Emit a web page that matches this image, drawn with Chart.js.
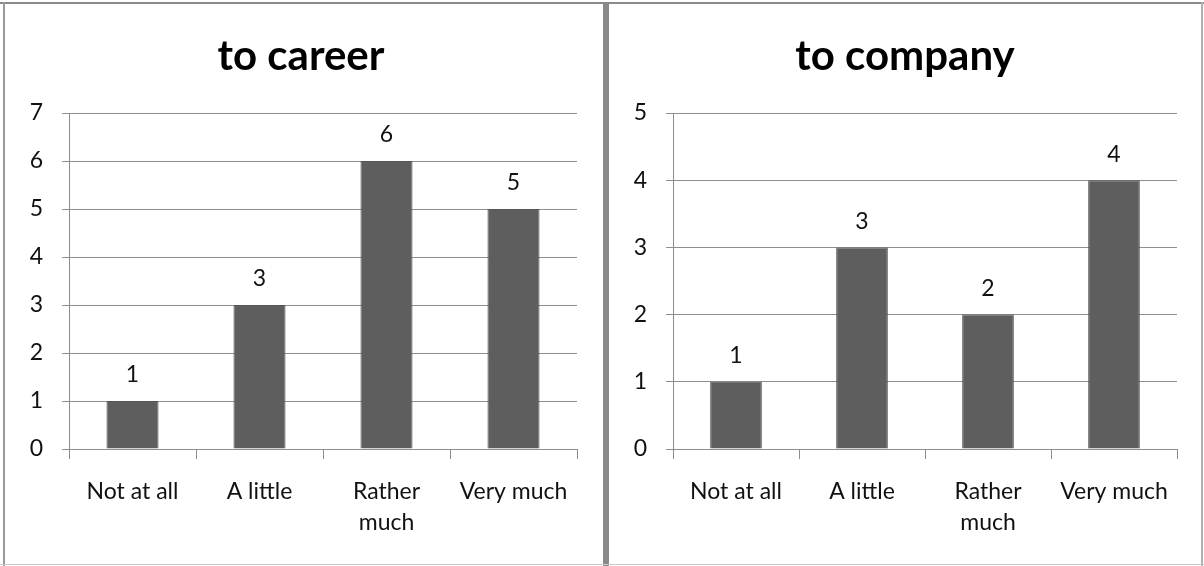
<!DOCTYPE html>
<html>
<head>
<meta charset="utf-8">
<script src="https://cdn.jsdelivr.net/npm/chart.js@4"></script>
<style>
  html, body { margin: 0; padding: 0; background: #fff; }
  body { width: 1204px; height: 566px; position: relative; overflow: hidden; }
  .panel { position: absolute; top: 4px; height: 560px; }
  #left-panel { left: 5px; width: 598px; }
  #right-panel { left: 609px; width: 593px; }
  .line { position: absolute; }
  #top-line { left: 0; top: 2px; width: 1204px; height: 2px; background: #8a8a8a; }
  #left-line { left: 3px; top: 2px; width: 2px; height: 564px; background: #9a9a9a; }
  #mid-line { left: 603px; top: 2px; width: 6px; height: 564px; background: #8a8a8a; }
  #right-line { left: 1201px; top: 2px; width: 2px; height: 564px; background: #b0b0b0; }
  #bottom-line { left: 0; top: 564px; width: 1204px; height: 1px; background: #c8c8c8; }
</style>
</head>
<body>
<div class="line" id="top-line"></div>
<div class="line" id="left-line"></div>
<div class="line" id="mid-line"></div>
<div class="line" id="right-line"></div>
<div class="line" id="bottom-line"></div>
<div class="panel" id="left-panel"><canvas id="career-chart" width="598" height="560"></canvas></div>
<div class="panel" id="right-panel"><canvas id="company-chart" width="593" height="560"></canvas></div>

<script>
// Answers shared by both charts
const answerLabels = [["Not at all"], ["A little"], ["Rather", "much"], ["Very much"]];

// Counts per answer
const careerCounts = [1, 3, 6, 5];
const companyCounts = [1, 3, 2, 4];

// Y axis ranges
const careerMax = 7;
const companyMax = 5;

const FONT = "Lato, 'Open Sans', sans-serif";
const GRID = "#8e8e8e";
const BAR = "#5e5e5e";
const TEXT = "#111111";

// writes each bar's value just above it
const valueLabels = {
  id: "valueLabels",
  afterDatasetsDraw(chart) {
    const ctx = chart.ctx;
    const meta = chart.getDatasetMeta(0);
    const values = chart.data.datasets[0].data;
    ctx.save();
    ctx.font = "23px " + FONT;
    ctx.fillStyle = TEXT;
    ctx.textAlign = "center";
    ctx.textBaseline = "middle";
    meta.data.forEach((bar, i) => {
      ctx.fillText(String(values[i]), bar.x, bar.y - 26);
    });
    ctx.restore();
  },
};

// plot area starts 64px in; leftPad shifts the centred title
function makeChart(canvasId, title, counts, yMax, leftPad, rightPad) {
  const ctx = document.getElementById(canvasId).getContext("2d");
  return new Chart(ctx, {
    type: "bar",
    data: {
      labels: answerLabels,
      datasets: [
        {
          data: counts,
          backgroundColor: BAR,
          borderColor: "#555555",
          borderWidth: 1,
          categoryPercentage: 1,
          barPercentage: 0.41,
        },
      ],
    },
    options: {
      responsive: false,
      animation: false,
      layout: { padding: { left: leftPad, right: rightPad, top: 0, bottom: 0 } },
      plugins: {
        legend: { display: false },
        tooltip: { enabled: false },
        title: {
          display: true,
          text: title,
          color: "#000",
          font: { family: FONT, size: 42, weight: "bold", lineHeight: 1 },
          padding: { top: 31, bottom: 36 },
        },
      },
      scales: {
        x: {
          grid: {
            display: true,
            drawOnChartArea: false,
            offset: true,
            tickLength: 10,
            color: GRID,
          },
          border: { color: GRID },
          ticks: {
            color: TEXT,
            font: { family: FONT, size: 23, lineHeight: 1.35 },
            padding: 17,
            maxRotation: 0,
            autoSkip: false,
          },
          afterFit: (scale) => {
            scale.height = 115;
          },
        },
        y: {
          min: 0,
          max: yMax,
          grid: { color: GRID, tickLength: 7 },
          border: { color: GRID },
          ticks: {
            stepSize: 1,
            color: TEXT,
            font: { family: FONT, size: 23 },
            padding: 19,
          },
          afterFit: (scale) => {
            scale.width = 64 - leftPad;
          },
        },
      },
    },
    plugins: [valueLabels],
  });
}

makeChart("career-chart", "to career", careerCounts, careerMax, 20, 26);
makeChart("company-chart", "to company", companyCounts, companyMax, 24, 25);
</script>
</body>
</html>
